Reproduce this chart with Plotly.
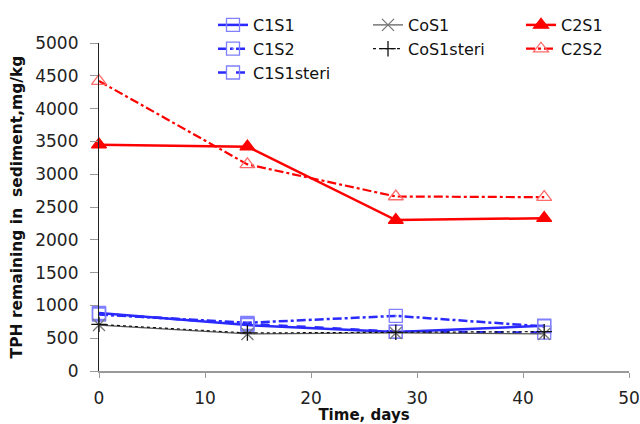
import plotly.graph_objects as go

days = [0, 14, 28, 42]

c1s1 = [885, 700, 595, 690]
c1s2 = [860, 735, 840, 680]
c1s1_steri = [870, 720, 600, 585]
cos1 = [700, 565, 580, 565]
cos1_steri = [710, 580, 590, 600]
c2s1 = [3450, 3420, 2300, 2330]
c2s2 = [4420, 3150, 2660, 2650]

BLUE = "#2a2aff"
BLUE_MK = "#7f7fff"
RED = "#ff0000"
RED_MK = "#ff6a6a"

fig = go.Figure()


def add(name, y, color, width, dash, symbol, mcolor, msize, legend, mwidth=1.3):
    fig.add_trace(go.Scatter(
        x=days, y=y, name=name, mode="lines+markers",
        line=dict(color=color, width=width, dash=dash),
        marker=dict(symbol=symbol, size=msize, color=mcolor,
                    line=dict(color=mcolor, width=mwidth)),
        cliponaxis=False, legend=legend,
    ))


# three legend columns: blue series, control series, red series
add("C1S1", c1s1, BLUE, 2.5, "solid", "square-open", BLUE_MK, 13, "legend")
add("C1S2", c1s2, BLUE, 2.5, "dashdot", "square-open-dot", BLUE_MK, 13, "legend")
add("C1S1steri", c1s1_steri, BLUE, 2.5, "dash", "square-open", BLUE_MK, 13, "legend")
add("CoS1", cos1, "#555555", 1.2, "solid", "x-thin-open", "#777777", 12, "legend2")
add("CoS1steri", cos1_steri, "#111111", 1.2, "dot", "cross-thin-open", "#111111", 11, "legend2")
add("C2S1", c2s1, RED, 2.5, "solid", "triangle-up", RED, 13, "legend3")
add("C2S2", c2s2, RED, 2.2, "dashdot", "triangle-up-open", RED_MK, 13, "legend3")

PLOT_L, PLOT_W = 99, 530
PLOT_B, PLOT_H = 53, 328


def px_x(p):
    return (p - PLOT_L) / PLOT_W


def px_y(p):
    return (424 - PLOT_B - p) / PLOT_H


legend_common = dict(
    orientation="v", yanchor="top", xanchor="left",
    font=dict(size=16, color="#111111"),
    bgcolor="rgba(0,0,0,0)", tracegroupgap=0,
)

fig.update_layout(
    width=640, height=424,
    margin=dict(l=PLOT_L, r=11, t=43, b=PLOT_B, autoexpand=False),
    paper_bgcolor="white", plot_bgcolor="white",
    font=dict(family="DejaVu Sans", size=16, color="#222222"),
    showlegend=True,
    legend=dict(x=px_x(213), y=px_y(8), **legend_common),
    legend2=dict(x=px_x(368), y=px_y(8), **legend_common),
    legend3=dict(x=px_x(521), y=px_y(8), **legend_common),
)

fig.update_xaxes(
    range=[0, 50], dtick=10, tick0=0,
    showgrid=False, zeroline=False,
    showline=True, linecolor="#999999", linewidth=1.5,
    ticks="outside", ticklen=5, tickcolor="#999999",
    ticklabelstandoff=6,
    tickfont=dict(size=17, color="#222222"),
    title=dict(text="<b>Time, days</b>", font=dict(size=15, color="#111111"), standoff=2),
)
fig.update_yaxes(
    range=[0, 5000], dtick=500, tick0=0,
    showgrid=False, zeroline=False,
    showline=True, linecolor="#222222", linewidth=1.2,
    ticks="outside", ticklen=8, tickcolor="#999999",
    ticklabelstandoff=8,
    tickfont=dict(size=17, color="#222222"),
    title=dict(text="<b>TPH remaining in  sediment,mg/kg</b>",
               font=dict(size=15.5, color="#111111"), standoff=8),
)

fig.write_html("out.html")
